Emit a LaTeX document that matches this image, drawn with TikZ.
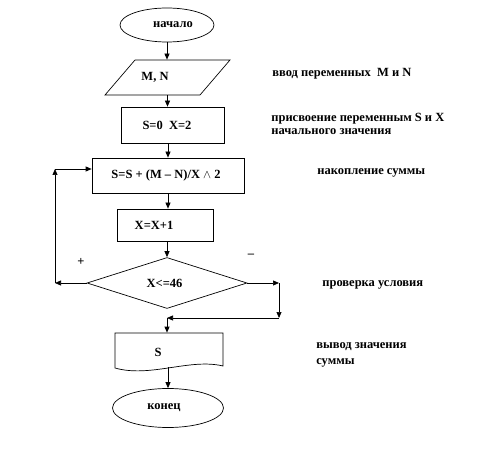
\documentclass[tikz,border=0pt]{standalone}
\usepackage{fontspec}
\setmainfont{Liberation Serif}
\usetikzlibrary{shapes.geometric,arrows.meta}
\begin{document}
\begin{tikzpicture}[x=1pt,y=-1pt, line width=0.7pt,
  font=\fontsize{12.5}{13}\selectfont\bfseries,
  arr/.style={-{Triangle[length=6pt,width=5pt]}},
  flow/.style={draw, inner sep=0pt},
  term/.style={flow, ellipse},
  procbox/.style={flow, rectangle},
  note/.style={anchor=west, align=left, inner sep=0pt}]
\useasboundingbox (0,0) rectangle (503,462);

% blocks
\node[term, minimum width=94pt, minimum height=34pt,
  label={[xshift=6pt]center:начало}] (start) at (167,25) {};
\node[minimum width=95pt, minimum height=35pt, inner sep=0pt,
  label={[xshift=-12.5pt]center:{M, N}}] (inp) at (167.5,77.5) {};
\draw (105,95) -- (135,60) -- (230,60) -- (200,95) -- cycle;
\node[procbox, minimum width=103pt, minimum height=36pt,
  label={[xshift=-5.5pt]center:S=0\ \ X=2}] (init) at (172.5,125) {};
\node[procbox, minimum width=152pt, minimum height=35pt,
  label={[xshift=-2pt]center:S=S + (M – N)/X $\wedge$ 2}] (acc) at (168,175.5) {};
\node[procbox, minimum width=96pt, minimum height=32pt,
  label={[xshift=-11pt]center:X=X+1}] (inc) at (165,225) {};
\node[flow, diamond, minimum width=160pt, minimum height=51pt,
  label={[xshift=-2.5pt]center:X<=46}] (cond) at (167,283) {};
\node[minimum width=108pt, minimum height=34pt, inner sep=0pt] (out) at (169,350) {};
\draw (115,333) -- (223,333) -- (223,366)
  .. controls (190,358) and (150,378) .. (115,368) -- cycle;
\node (outlbl) at (158,352) {S};
\node[term, minimum width=111pt, minimum height=39pt,
  label={[xshift=-4pt]center:конец}] (end) at (168,408) {};

% helper coordinates
\coordinate (lc1) at (55,283);
\coordinate (lc2) at (55,169);
\coordinate (rc1) at (279,283);
\coordinate (rc2) at (279,318);
\coordinate (mc) at (167,318);

% connectors
\draw[arr] (start.south) -- (start.south |- inp.north);
\draw[arr] (inp.south) -- (inp.south |- init.north);
\draw[arr] (init.south -| acc.north) -- (acc.north);
\draw[arr] (acc.south) -- (acc.south |- inc.north);
\draw[arr] (cond.north |- inc.south) -- (cond.north);
\draw[arr] (cond.west) -- (lc1);
\draw[arr] (lc1) -- (lc2);
\draw[arr] (lc2) -- (lc2 -| acc.west);
\draw[arr] (cond.east) -- (rc1);
\draw[arr] (rc1) -- (rc2);
\draw[arr] (rc2) -- (mc);
\draw[arr] (mc) -- (mc |- out.north);
\draw[arr] (out.south -| end.north) -- (end.north);

% branch marks
\node (plus) at (81,262) {+};
\node (minus) at (251,256) {–};

% comments
\node[note] (n1) at (272,74) {ввод переменных\ \ M и N};
\node[note] (n2) at (271,123.5) {присвоение переменным S и X\\начального значения};
\node[note] (n3) at (317,173) {накопление суммы};
\node[note] (n4) at (322,285) {проверка условия};
\node[note, font=\fontsize{12.5}{16}\selectfont\bfseries] (n5) at (316,355) {вывод значения\\суммы};
\end{tikzpicture}
\end{document}
